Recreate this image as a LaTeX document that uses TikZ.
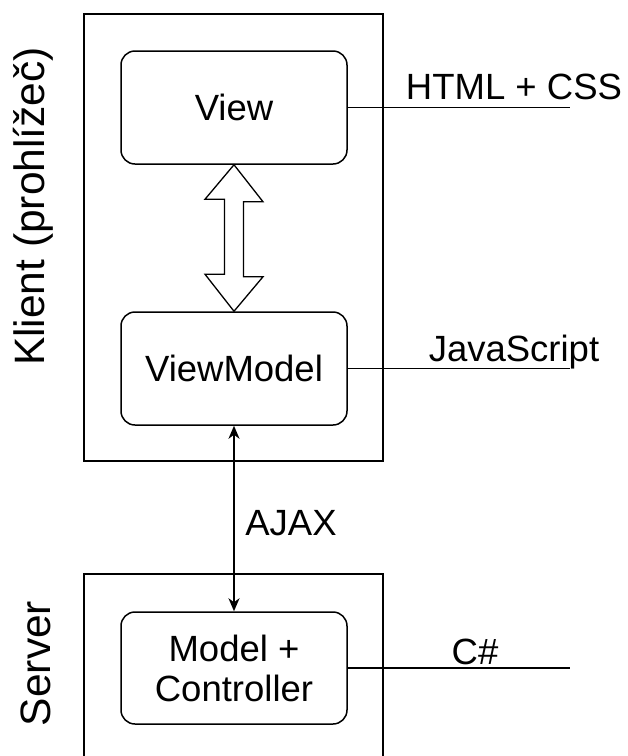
\documentclass[tikz,border=0pt]{standalone}
\usepackage{fontspec}
\setmainfont{Liberation Sans}
\usetikzlibrary{arrows.meta}

\tikzset{
  every picture/.style={x=1pt,y=-1pt},
  frame/.style={draw, line width=1.5pt, minimum width=299pt, inner sep=0pt},
  layer/.style={draw, line width=1.5pt, rounded corners=14pt, minimum width=226pt,
    minimum height=113pt, align=center, inner sep=0pt, font=\fontsize{36.5}{43}\selectfont},
  wire/.style={line width=1.5pt},
  tag/.style={font=\fontsize{36.5}{43}\selectfont, inner sep=0pt},
  side/.style={font=\fontsize{42.5}{50}\selectfont, rotate=90, inner sep=0pt, anchor=base},
}

\begin{document}
\begin{tikzpicture}
  \useasboundingbox (0,0) rectangle (628,756);

  % outer containers
  \node[frame, minimum height=447pt] (client) at (233.5,237.5) {};
  \draw[line width=1.5pt] (84,756) -- (84,574) -- (383,574) -- (383,756);

  % side captions
  \node[side] (klient) at (44,206.5) {Klient (prohlížeč)};
  \node[side] (server) at (50,663.5) {Server};

  % layers
  \node[layer] (view) at (234,107.5) {View};
  \node[layer] (vm) at (234,368.5) {ViewModel};
  \node[layer, minimum height=112pt] (mc) at (234,668) {Model +\\[-3pt]Controller};

  % hollow two-way binding arrow
  \draw[line width=1.3pt, fill=white]
    (view.south) -- ++(29,37) -- ++(-19.5,0) -- ++(0,75) -- ++(19.5,0)
    -- (vm.north) -- ++(-29,-37) -- ++(19.5,0) -- ++(0,-75) -- ++(-19.5,0) -- cycle;

  % AJAX link
  \draw[wire, {Stealth[length=13pt,width=11pt,inset=4pt]}-{Stealth[length=13pt,width=11pt,inset=4pt]}]
    (vm.south) -- (mc.north);
  \node[tag] (ajax) at (291,523) {AJAX};

  % technology leaders
  \coordinate (e1) at (570,107.5);
  \coordinate (e2) at (570,368.5);
  \coordinate (e3) at (570,668);
  \draw[wire] (view.east) -- (e1);
  \draw[wire] (vm.east) -- (e2);
  \draw[wire] (mc.east) -- (e3);
  \node[tag] (html) at (514,87) {HTML + CSS};
  \node[tag] (js) at (514,352) {JavaScript};
  \node[tag] (cs) at (475,652) {C\#};
\end{tikzpicture}
\end{document}
